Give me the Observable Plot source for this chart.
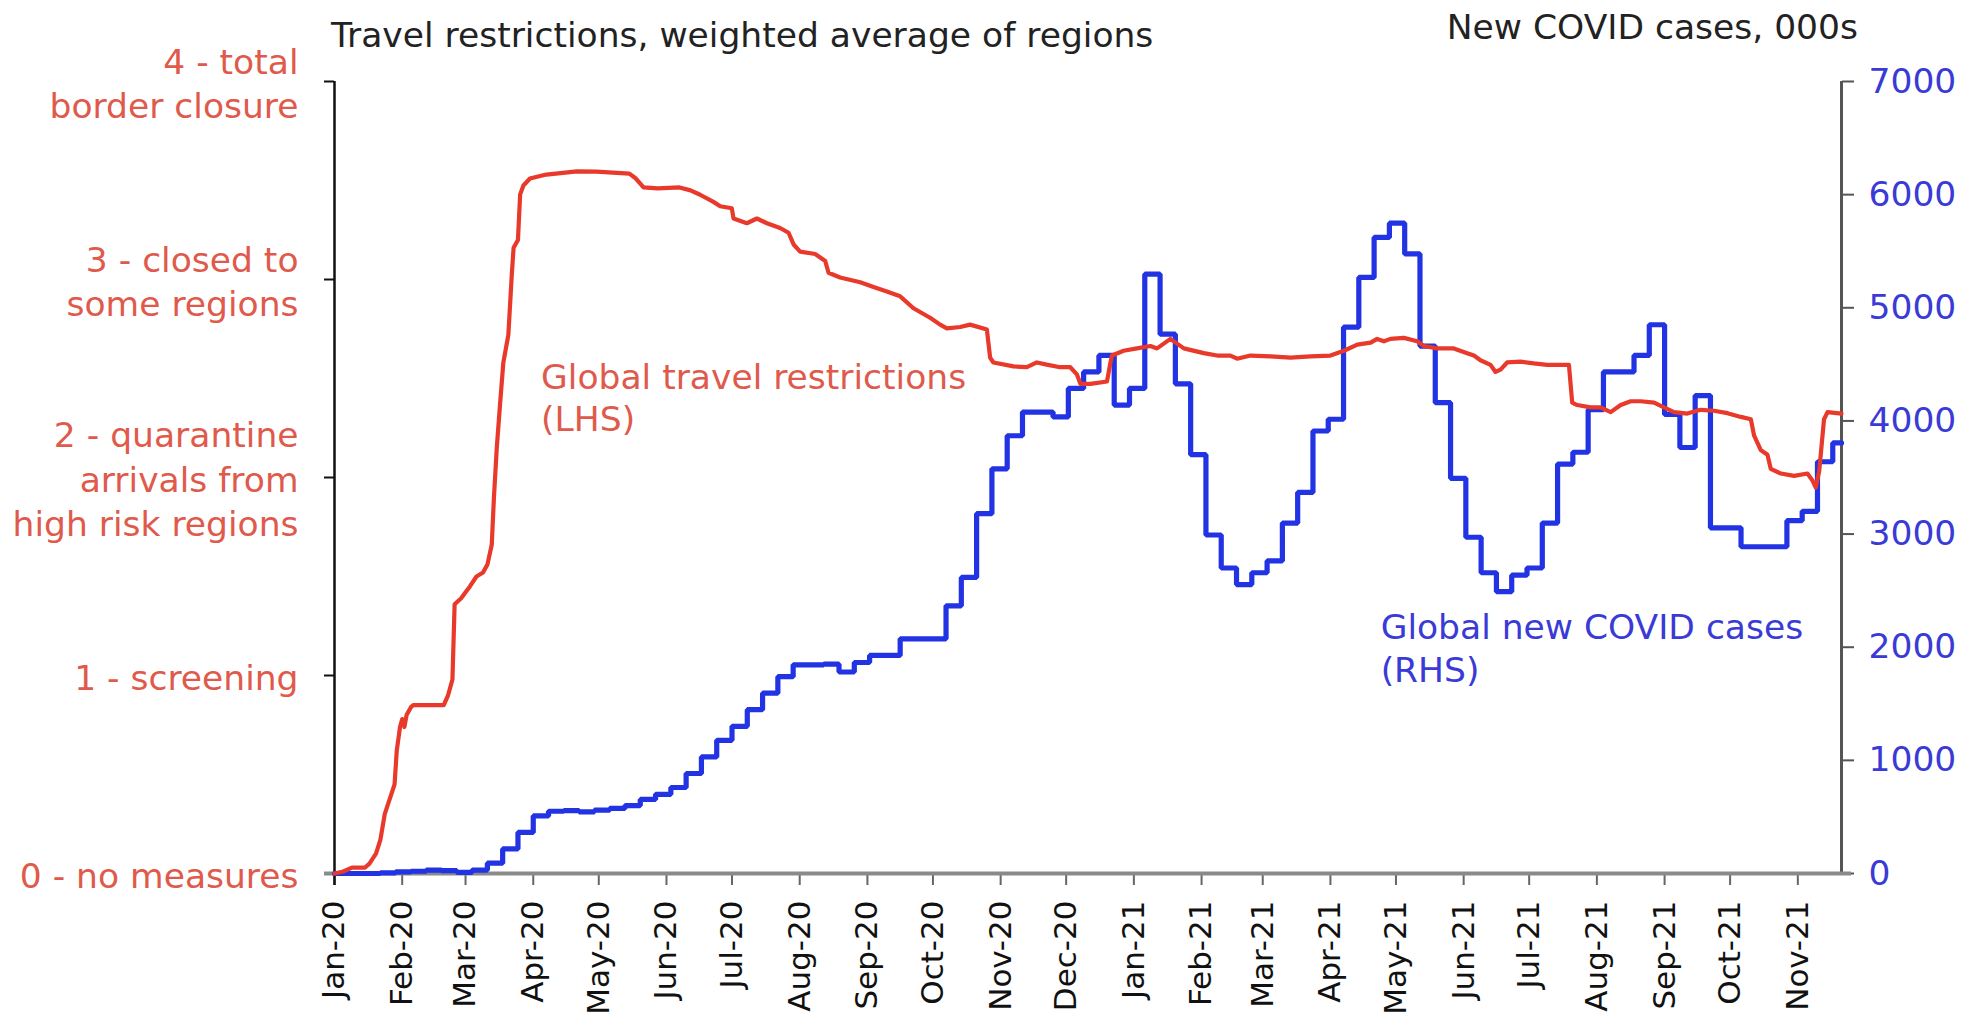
<!DOCTYPE html>
<html>
<head>
<meta charset="utf-8">
<script src="https://cdn.jsdelivr.net/npm/d3@7"></script>
<script src="https://cdn.jsdelivr.net/npm/@observablehq/plot@0.6"></script>
<style>
  body { margin: 0; background: #fff; }
  #wrap { position: relative; width: 1982px; height: 1015px; overflow: hidden; font-family: "DejaVu Sans", sans-serif; }
  #head { position: relative; height: 52px; }
  #head span { position: absolute; font-size: 34.5px; color: #222; white-space: nowrap; line-height: 1; }
  #t1 { left: 331px; top: 18px; }
  #t2 { right: 124px; top: 10px; }
</style>
</head>
<body>
<div id="wrap">
  <div id="head">
    <span id="t1">Travel restrictions, weighted average of regions</span>
    <span id="t2">New COVID cases, 000s</span>
  </div>
  <div id="chart"></div>
</div>
<script>
// ---------------- data ----------------
// Left axis: travel restriction levels
const levelTicks = [0, 1, 2, 3, 4];
const levelLabels = [
  "0 - no measures",
  "1 - screening",
  "2 - quarantine\narrivals from\nhigh risk regions",
  "3 - closed to\nsome regions",
  "4 - total\nborder closure"
];
// Right axis: new COVID cases (000s)
const caseTicks = [0, 1000, 2000, 3000, 4000, 5000, 6000, 7000];
const caseMax = 7000;
const levelMax = 4;

// Global travel restrictions (LHS): [days since 1 Jan 2020, level]
const restrictionSeries = [
  [0,0.0],[4,0.01],[8,0.03],[14,0.03],[16,0.05],[19,0.1],[21,0.17],[23,0.3],[24.5,0.35],[26,0.4],
  [27.5,0.45],[28.5,0.62],[30,0.74],[31,0.78],[32,0.74],[33,0.8],[35,0.84],[36,0.85],[50,0.85],[52,0.9],
  [54,0.98],[55,1.36],[58,1.39],[60,1.42],[62,1.45],[65,1.5],[68,1.52],[70,1.56],[72,1.66],[73,1.9],
  [74.3,2.15],[75.8,2.37],[77.3,2.58],[79.6,2.72],[81.2,3.03],[82,3.16],[84,3.2],[85,3.43],[86.5,3.475],[89.5,3.51],
  [97,3.53],[111,3.546],[120,3.545],[135,3.535],[138,3.51],[141.5,3.465],[148,3.46],[158,3.465],[163,3.45],[167.4,3.428],
  [173.5,3.392],[176.6,3.37],[181.9,3.36],[182.7,3.308],[188.8,3.284],[193.4,3.308],[198,3.284],[204,3.26],[207.9,3.236],[210.2,3.177],
  [213.2,3.141],[220.1,3.129],[224.7,3.093],[226.2,3.034],[231.5,3.01],[240.7,2.986],[246.8,2.962],[252.9,2.939],[259,2.915],[265.1,2.855],
  [272.7,2.807],[277.3,2.772],[280.4,2.753],[286.5,2.76],[291,2.772],[298.7,2.748],[300.2,2.605],[301.7,2.581],[310.9,2.561],[317,2.557],
  [321.6,2.581],[326.1,2.57],[332.2,2.557],[336.9,2.557],[339.9,2.521],[341.5,2.473],[346.1,2.473],[353.7,2.485],[355.3,2.581],[356,2.616],
  [361.3,2.64],[367.4,2.652],[373.6,2.664],[376.6,2.652],[379.7,2.676],[382.7,2.7],[385.8,2.676],[388.9,2.652],[398,2.628],[404.1,2.616],
  [410.2,2.616],[413.3,2.6],[419.4,2.616],[428.6,2.612],[437.7,2.605],[446.9,2.612],[456,2.616],[462.2,2.64],[468.3,2.671],[474.4,2.681],
  [477.4,2.7],[480.5,2.688],[483.5,2.7],[489.6,2.705],[495.7,2.688],[498.8,2.664],[504.9,2.652],[512.5,2.652],[518.6,2.628],[521.7,2.616],
  [524.7,2.592],[529.3,2.569],[531.6,2.533],[533.9,2.545],[536.9,2.581],[543,2.585],[549.1,2.576],[555.3,2.569],[565.2,2.569],[566.7,2.378],
  [569,2.366],[575.1,2.354],[579.7,2.354],[584.3,2.33],[588.9,2.366],[593.5,2.385],[598,2.385],[604.2,2.378],[608.7,2.354],[613.3,2.33],
  [619.4,2.323],[625.5,2.342],[631.6,2.337],[637.8,2.325],[643.9,2.306],[648.5,2.294],[650,2.211],[653,2.139],[656.1,2.115],[657.6,2.044],
  [662.2,2.02],[668.3,2.008],[674.4,2.02],[676.7,1.985],[678.2,1.949],[679.8,2.032],[682,2.294],[683.6,2.33],[690,2.323]
];

// Global new COVID cases (RHS), 000s per week, weeks starting 1 Jan 2020
const casesWeekly = [
  0,0,0,5,15,20,30,25,10,30,
  91,217,363,509,550,555,545,560,575,600,
  655,700,760,884,1030,1177,1301,1448,1594,1740,
  1844,1844,1850,1781,1865,1927,1927,2074,2074,2074,
  2366,2617,3180,3577,3869,4078,4078,4035,4287,4433,
  4579,4140,4287,5297,4767,4328,3702,2992,2700,2554,
  2658,2763,3097,3368,3911,4015,4829,5268,5622,5748,
  5476,4662,4161,3493,2972,2658,2491,2637,2700,3097,
  3619,3723,4099,4433,4433,4579,4850,4057,3765,4224,
  3055,3055,2888,2888,2888,3118,3201,3639,3806
];

// annotations
const noteText = ["Global travel restrictions\n(LHS)", "Global new COVID cases\n(RHS)"];
const noteDay = [94.6, 479];
const noteLevel = [2.41, 1.144];

// ---------------- build ----------------
const DAY = 864e5;
const T0 = Date.UTC(2020, 0, 1);
const toDate = d => new Date(T0 + d * DAY);
const xStart = new Date(T0);
const xEnd = new Date(Date.UTC(2021, 10, 21));
const ratio = caseMax / levelMax;

const red = "#e8392b", redText = "#e05a4c";
const blue = "#2233e4", blueText = "#3a3ad6";

const restriction = restrictionSeries.map(([d, v]) => ({date: toDate(d), v}));
const cases = casesWeekly.map((c, i) => ({date: toDate(7 * i), v: c / ratio}));
cases.push({date: xEnd, v: casesWeekly[casesWeekly.length - 1] / ratio});
const notes = noteText.map((t, i) => ({t, date: toDate(noteDay[i]), v: noteLevel[i]}));
const monthTicks = d3.utcMonth.range(xStart, xEnd);

const chart = Plot.plot({
  width: 1982,
  height: 963,
  marginLeft: 334,
  marginRight: 141,
  marginTop: 29,
  marginBottom: 142,
  style: {fontFamily: "DejaVu Sans, sans-serif", fontSize: "34.5px", overflow: "visible", background: "white", color: "#111"},
  x: {type: "utc", domain: [xStart, xEnd]},
  y: {domain: [0, levelMax]},
  marks: [
    Plot.axisY(levelTicks, {
      anchor: "left", tickSize: 10, tickPadding: 26,
      tickFormat: d => levelLabels[levelTicks.indexOf(d)],
      stroke: "#111", strokeWidth: 2, fill: redText, fontSize: 34.5, lineHeight: 1.28, label: null
    }),
    Plot.axisY(caseTicks.map(c => c / ratio), {
      anchor: "right", tickSize: 12, tickPadding: 15,
      tickFormat: d => String(Math.round(d * ratio)),
      stroke: "#555", strokeWidth: 2, fill: blueText, fontSize: 34.5, label: null
    }),
    Plot.axisX(monthTicks, {
      anchor: "bottom", tickSize: 12, tickPadding: 15, tickRotate: -90,
      tickFormat: d3.utcFormat("%b-%y"),
      stroke: "#666", strokeWidth: 2, fill: "#111", fontSize: 31, label: null
    }),
    Plot.ruleX([xStart], {stroke: "#111", strokeWidth: 2.5, insetBottom: -12}),
    Plot.ruleX([xEnd], {stroke: "#555", strokeWidth: 3}),
    Plot.ruleY([0], {stroke: "#8a8a8a", strokeWidth: 4, insetLeft: -10, insetRight: -10}),
    Plot.line(cases, {x: "date", y: "v", curve: "step-after", stroke: blue, strokeWidth: 5.2, strokeLinejoin: "miter"}),
    Plot.line(restriction, {x: "date", y: "v", stroke: red, strokeWidth: 4.2}),
    Plot.text(notes.slice(0, 1), {x: "date", y: "v", text: "t", textAnchor: "start", lineAnchor: "middle", lineHeight: 1.24, fill: redText, fontSize: 34.5}),
    Plot.text(notes.slice(1, 2), {x: "date", y: "v", text: "t", textAnchor: "start", lineAnchor: "middle", lineHeight: 1.24, fill: blueText, fontSize: 34.5})
  ]
});
document.getElementById("chart").appendChild(chart);
</script>
</body>
</html>
